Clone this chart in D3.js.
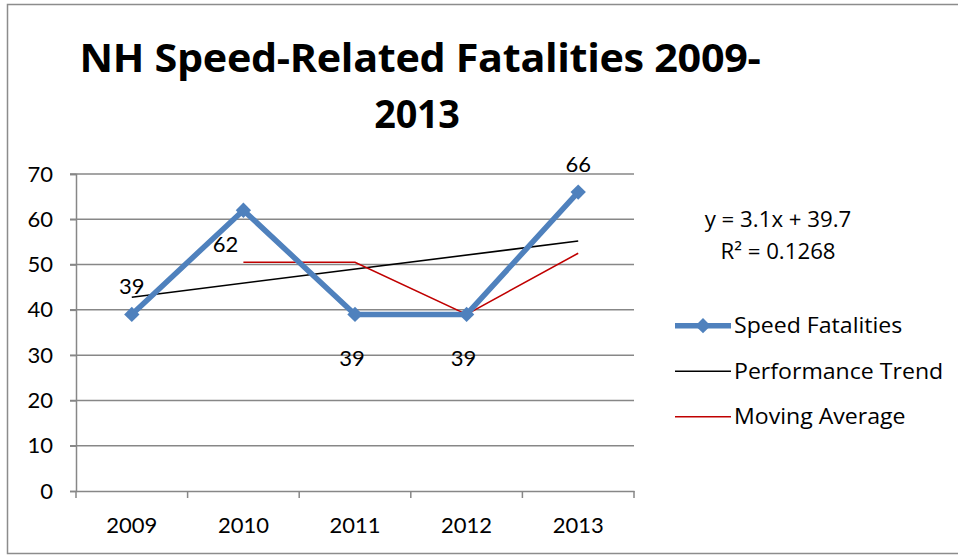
<!DOCTYPE html>
<html><head><meta charset="utf-8">
<script src="https://cdn.jsdelivr.net/npm/d3@7"></script>
<style>body{margin:0;background:#fff}svg{display:block}text{font-family:"Open Sans",Lato,sans-serif}</style>
</head><body>
<svg id="c" width="958" height="557"></svg>
<script>
const years = ["2009","2010","2011","2012","2013"];
const speedFatalities = [39, 62, 39, 39, 66];
const trendSlope = 3.1, trendIntercept = 39.7;
const trendR2 = 0.1268;
const movingAverage = [null, 50.5, 50.5, 39, 52.5];
const yTicks = [0,10,20,30,40,50,60,70];
const legendLabels = ["Speed Fatalities","Performance Trend","Moving Average"];
const titleLines = ["NH Speed-Related Fatalities 2009-","2013"];
const labelPlacement = ["above","belowLeft","below","below","above"];

const svg = d3.select("#c");
const blue = "#4F81BD", red = "#C00000", grid = "#878787";

svg.append("path").attr("d","M958,4.5 H7.5 V553.5 H958").attr("fill","none").attr("stroke","#8c8c8c").attr("stroke-width",1.5);

const x = d3.scaleBand().domain(years).range([76,634]);
const y = d3.scaleLinear().domain([0,70]).range([491,174]);
const cx = d => x(d) + x.bandwidth()/2;

svg.append("g").selectAll("line").data(yTicks.filter(t=>t>0)).join("line")
  .attr("x1",70).attr("x2",634).attr("y1",d=>y(d)).attr("y2",d=>y(d))
  .attr("stroke",grid).attr("stroke-width",1.5);

const ya = svg.append("g").attr("transform","translate(76,0)")
  .call(d3.axisLeft(y).tickValues(yTicks).tickSize(6).tickPadding(17));
ya.select(".domain").attr("stroke",grid).attr("stroke-width",1.5);
ya.selectAll(".tick line").attr("stroke",grid).attr("stroke-width",1.5);
ya.selectAll("text").attr("font-size",22).attr("fill","#000").style("font-family","Lato");

const xa = svg.append("g").attr("transform","translate(0,491)")
  .call(d3.axisBottom(x).tickSize(0).tickPadding(26));
xa.select(".domain").attr("stroke",grid).attr("stroke-width",1.5);
xa.selectAll("text").attr("font-size",22).attr("fill","#000").style("font-family","Lato");
const bounds = d3.range(years.length+1).map(i=>76 + i*x.step());
xa.selectAll(".sep").data(bounds).join("line").attr("class","sep")
  .attr("x1",d=>d).attr("x2",d=>d).attr("y1",0).attr("y2",7)
  .attr("stroke",grid).attr("stroke-width",1.5);

const trend = years.map((yr,i)=>({yr, v: trendSlope*(i+1)+trendIntercept}));
svg.append("path").datum([trend[0], trend[trend.length-1]])
  .attr("d", d3.line().x(d=>cx(d.yr)).y(d=>y(d.v)))
  .attr("fill","none").attr("stroke","#000").attr("stroke-width",1.6);

const ma = years.map((yr,i)=>({yr, v: movingAverage[i]})).filter(d=>d.v!==null);
svg.append("path").datum(ma)
  .attr("d", d3.line().x(d=>cx(d.yr)).y(d=>y(d.v)))
  .attr("fill","none").attr("stroke",red).attr("stroke-width",1.6);

const pts = years.map((yr,i)=>({yr, v: speedFatalities[i], p: labelPlacement[i]}));
svg.append("path").datum(pts)
  .attr("d", d3.line().x(d=>cx(d.yr)).y(d=>y(d.v)))
  .attr("fill","none").attr("stroke",blue).attr("stroke-width",5.5).attr("stroke-linejoin","round");
const diamond = d3.symbol().type(d3.symbolDiamond2).size(150);
svg.append("g").selectAll("path").data(pts).join("path")
  .attr("d", diamond).attr("transform",d=>`translate(${cx(d.yr)},${y(d.v)})`)
  .attr("fill",blue);

const off = {above:[0,-29], belowLeft:[-18,33], below:[-3,43]};
svg.append("g").selectAll("text").data(pts).join("text")
  .attr("x", d=>cx(d.yr)+off[d.p][0]).attr("y", d=>y(d.v)+off[d.p][1])
  .attr("text-anchor","middle").attr("dominant-baseline","central")
  .attr("font-size",22).style("font-family","Lato").text(d=>d.v);

function stretchedText(g, tx, ty, sx, opts){
  const t = g.append("text").attr("transform",`translate(${tx},${ty}) scale(${sx},1)`);
  Object.entries(opts).forEach(([k,v])=>{ if(k!=="text") t.attr(k,v); });
  t.text(opts.text);
  return t;
}

stretchedText(svg,420,72,1.06,{"text-anchor":"middle","font-size":39,"font-weight":"bold","letter-spacing":-0.3,text:titleLines[0]});
stretchedText(svg,417,128,0.97,{"text-anchor":"middle","font-size":39,"font-weight":"bold","letter-spacing":-0.3,text:titleLines[1]});

stretchedText(svg,778,226.5,1.06,{"text-anchor":"middle","font-size":21,text:`y = ${trendSlope}x + ${trendIntercept}`});
stretchedText(svg,778,258.5,1.06,{"text-anchor":"middle","font-size":21,text:`R² = ${trendR2}`});

const lg = svg.append("g").selectAll("g").data(legendLabels).join("g")
  .attr("transform",(d,i)=>`translate(675,${325.7+i*45.5})`);
lg.append("line").attr("x1",0).attr("x2",56).attr("y1",0).attr("y2",0)
  .attr("stroke",(d,i)=>[blue,"#000",red][i]).attr("stroke-width",(d,i)=>i===0?5.5:1.6);
lg.filter((d,i)=>i===0).append("path").attr("d",diamond).attr("transform","translate(28,0)").attr("fill",blue);
lg.each(function(d){ stretchedText(d3.select(this),59,7.6,1.05,{"font-size":22,text:d}); });
</script>
</body></html>
